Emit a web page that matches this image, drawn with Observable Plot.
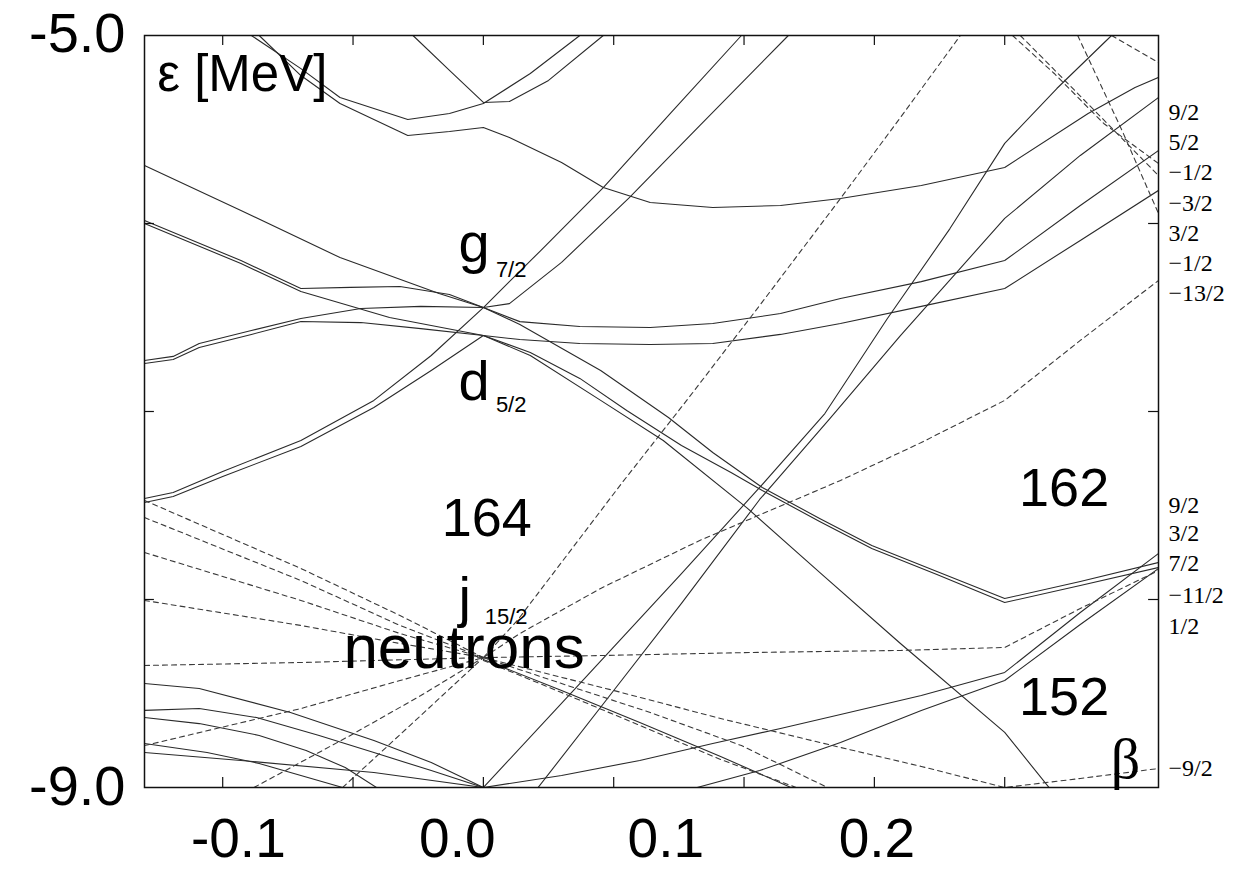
<!DOCTYPE html>
<html><head><meta charset="utf-8">
<script src="https://cdn.jsdelivr.net/npm/d3@7"></script>
<script src="https://cdn.jsdelivr.net/npm/@observablehq/plot@0.6"></script>
<style>html,body{margin:0;padding:0;background:#fff;} #chart{width:1246px;height:870px;overflow:hidden;}</style>
</head><body><div id="chart"></div>
<script>
// ---- axes ----
const xDomain = [-0.13, 0.259];
const yDomain = [-9, -5];
const xMinorTicks = [-0.1, -0.05, 0, 0.05, 0.1, 0.15, 0.2];
const yMinorTicks = [-6, -7, -8];
const xTickLabels = ["-0.1", "0.0", "0.1", "0.2"];
const xTickLabelAt = [-0.094, -0.010, 0.070, 0.151];
const yTickLabels = ["-5.0", "-9.0"];
const yTickValues = [-5, -9];

// ---- levels (beta, energy in MeV), solid = positive parity ----
const upperLines = [
  [[-0.027,-5.0],[-0.013,-5.186],[0,-5.356],[0.01,-5.351],[0.025,-5.239],[0.046,-5.0]],
  [[-0.089,-5.0],[-0.07,-5.176],[-0.055,-5.33],[-0.029,-5.447],[-0.013,-5.415],[0,-5.362],[0.018,-5.202],[0.037,-5.0]],
  [[-0.086,-5.0],[-0.07,-5.213],[-0.055,-5.362],[-0.029,-5.532],[-0.013,-5.511],[0,-5.489],[0.01,-5.543],[0.03,-5.676],[0.046,-5.809],[0.064,-5.888],[0.088,-5.915],[0.114,-5.904],[0.137,-5.867],[0.168,-5.798],[0.2,-5.702],[0.232,-5.415],[0.25,-5.277],[0.259,-5.223]]
];
const g72d52Lines = [
  [[-0.13,-5.691],[-0.093,-5.931],[-0.055,-6.181],[-0.017,-6.372],[0,-6.447],[0.014,-6.537],[0.045,-6.782],[0.071,-7.032],[0.088,-7.218],[0.107,-7.404],[0.129,-7.569],[0.149,-7.713],[0.174,-7.851],[0.2,-7.995],[0.229,-7.904],[0.259,-7.803]],
  [[-0.13,-5.984],[-0.093,-6.197],[-0.07,-6.346],[-0.051,-6.34],[-0.032,-6.335],[-0.013,-6.378],[0,-6.447],[0.014,-6.522],[0.037,-6.548],[0.064,-6.553],[0.088,-6.532],[0.114,-6.479],[0.137,-6.399],[0.168,-6.309],[0.2,-6.197],[0.229,-5.904],[0.259,-5.612]],
  [[-0.13,-6.729],[-0.119,-6.707],[-0.109,-6.638],[-0.089,-6.569],[-0.07,-6.505],[-0.047,-6.452],[-0.024,-6.441],[0,-6.447],[0.01,-6.426],[0.03,-6.207],[0.056,-5.862],[0.083,-5.479],[0.117,-5.0]],
  [[-0.13,-7.463],[-0.119,-7.431],[-0.1,-7.319],[-0.07,-7.154],[-0.042,-6.941],[-0.02,-6.702],[0,-6.447],[0.022,-6.144],[0.046,-5.809],[0.072,-5.41],[0.099,-5.0]],
  [[-0.13,-6.0],[-0.093,-6.213],[-0.07,-6.362],[-0.036,-6.5],[0,-6.596],[0.018,-6.686],[0.037,-6.824],[0.055,-6.995],[0.076,-7.181],[0.095,-7.324],[0.107,-7.42],[0.129,-7.585],[0.149,-7.729],[0.174,-7.867],[0.2,-8.016],[0.229,-7.926],[0.259,-7.83]],
  [[-0.13,-6.745],[-0.119,-6.723],[-0.109,-6.66],[-0.089,-6.59],[-0.07,-6.521],[-0.047,-6.527],[-0.024,-6.559],[0,-6.596],[0.018,-6.702],[0.045,-6.941],[0.069,-7.154],[0.101,-7.511],[0.129,-7.856],[0.16,-8.234],[0.2,-8.707],[0.217,-9.0]],
  [[-0.13,-7.484],[-0.119,-7.452],[-0.1,-7.346],[-0.07,-7.186],[-0.042,-6.979],[-0.02,-6.782],[0,-6.596],[0.014,-6.617],[0.037,-6.638],[0.064,-6.644],[0.088,-6.638],[0.114,-6.59],[0.137,-6.532],[0.168,-6.441],[0.2,-6.346],[0.229,-6.09],[0.259,-5.824]]
];
const lowerLines = [
  [[0,-9.0],[0.037,-8.447],[0.076,-7.862],[0.106,-7.404],[0.131,-7.011],[0.155,-6.505],[0.179,-6.027],[0.2,-5.574],[0.22,-5.282],[0.241,-5.0]],
  [[0.021,-9.0],[0.05,-8.484],[0.076,-8.021],[0.106,-7.468],[0.133,-7.037],[0.16,-6.596],[0.2,-5.973],[0.229,-5.638],[0.259,-5.33]],
  [[0,-9.0],[0.03,-8.936],[0.06,-8.856],[0.088,-8.766],[0.114,-8.686],[0.137,-8.612],[0.168,-8.511],[0.2,-8.388],[0.229,-8.069],[0.259,-7.755]],
  [[0.082,-9.0],[0.106,-8.91],[0.137,-8.761],[0.168,-8.59],[0.2,-8.431],[0.229,-8.133],[0.259,-7.835]],
  [[-0.13,-8.447],[-0.109,-8.473],[-0.074,-8.601],[-0.042,-8.75],[-0.02,-8.867],[0,-9.0]],
  [[-0.13,-8.59],[-0.109,-8.58],[-0.087,-8.628],[-0.063,-8.723],[-0.042,-8.814],[-0.02,-8.91],[0,-9.0]],
  [[-0.13,-8.628],[-0.109,-8.66],[-0.086,-8.723],[-0.068,-8.803],[-0.053,-8.894],[-0.041,-9.0]],
  [[-0.13,-8.766],[-0.106,-8.814],[-0.086,-8.872],[-0.07,-8.936],[-0.054,-9.0]],
  [[-0.13,-8.814],[-0.093,-8.856],[-0.042,-8.92],[0,-9.0]],
  [[0,-8.319],[0.03,-8.484],[0.06,-8.654],[0.091,-8.835],[0.118,-9.0]]
];
// ---- dashed = negative parity (j15/2 and others) ----
const j152Left = [
  [[-0.13,-7.473],[-0.07,-7.835],[-0.032,-8.085],[0,-8.309]],
  [[-0.13,-7.564],[-0.07,-7.899],[-0.032,-8.138],[0,-8.309]],
  [[-0.13,-7.75],[-0.07,-8.005],[-0.032,-8.181],[0,-8.309]],
  [[-0.13,-8.005],[-0.07,-8.138],[-0.032,-8.234],[0,-8.309]],
  [[-0.13,-8.351],[-0.07,-8.335],[0,-8.309]],
  [[-0.13,-8.777],[-0.07,-8.58],[-0.032,-8.431],[0,-8.309]],
  [[-0.088,-9.0],[-0.051,-8.723],[-0.024,-8.511],[0,-8.309]],
  [[-0.054,-9.0],[-0.024,-8.617],[0,-8.309]]
];
const j152Right = [
  [[0,-8.309],[0.013,-8.112],[0.053,-7.383],[0.078,-6.941],[0.106,-6.436],[0.137,-5.867],[0.16,-5.436],[0.183,-5.0]],
  [[0,-8.309],[0.014,-8.181],[0.045,-7.941],[0.083,-7.686],[0.137,-7.367],[0.168,-7.165],[0.2,-6.941],[0.229,-6.622],[0.259,-6.303]],
  [[0,-8.309],[0.045,-8.298],[0.102,-8.282],[0.16,-8.271],[0.2,-8.255],[0.229,-8.048],[0.259,-7.846]],
  [[0,-8.309],[0.05,-8.484],[0.091,-8.633],[0.137,-8.787],[0.168,-8.888],[0.2,-9.0],[0.229,-8.952],[0.259,-8.899]],
  [[0,-8.309],[0.03,-8.447],[0.064,-8.601],[0.099,-8.777],[0.132,-9.0]],
  [[0,-8.324],[0.03,-8.495],[0.06,-8.67],[0.091,-8.851],[0.12,-9.0]]
];
const topRightDashed = [
  [[0.241,-5.0],[0.259,-5.144]],
  [[0.203,-5.0],[0.219,-5.202],[0.238,-5.468],[0.259,-5.681]],
  [[0.206,-5.0],[0.225,-5.266],[0.259,-5.745]],
  [[0.228,-5.0],[0.245,-5.505],[0.259,-5.947]]
];

// ---- labels ----
const rightLabels = ["9/2","5/2","\u22121/2","\u22123/2","3/2","\u22121/2","\u221213/2","9/2","3/2","7/2","\u221211/2","1/2","\u22129/2"];
const rightLabelE = [-5.41,-5.57,-5.73,-5.89,-6.05,-6.21,-6.37,-7.50,-7.65,-7.81,-7.98,-8.14,-8.90];
const shellText = ["164","162","152"];
const shellB = [0.0013, 0.2228, 0.2228];
const shellE = [-7.66, -7.50, -8.617];
const orbitalMain = ["g","d","j"];
const orbitalSub = ["7/2","5/2","15/2"];
const orbitalB = [-0.0095, -0.0095, -0.0095];
const orbitalE = [-6.207, -6.941, -8.09];
const orbitalSubB = [0.0048, 0.0048, 0.0005];
const orbitalSubE = [-6.287, -7.005, -8.128];

const toRows = (group, name) => group.flatMap((pts, i) => pts.map(([b, e]) => ({b, e, id: name + i})));
const solidRows = [...toRows(upperLines, "u"), ...toRows(g72d52Lines, "g"), ...toRows(lowerLines, "l")];
const dashedRows = [...toRows(j152Left, "jl"), ...toRows(j152Right, "jr"), ...toRows(topRightDashed, "t")];

const sans = "Liberation Sans, Arial, Helvetica, sans-serif";
const serif = "Liberation Serif, Times New Roman, serif";

const chart = Plot.plot({
  width: 1246, height: 870,
  marginLeft: 144, marginRight: 88, marginTop: 35, marginBottom: 83,
  x: {domain: xDomain, axis: null},
  y: {domain: yDomain, axis: null},
  style: {background: "#fff", fontFamily: sans, color: "#000"},
  marks: [
    Plot.line(solidRows, {x: "b", y: "e", z: "id", stroke: "#2a2a2a", strokeWidth: 1.1, clip: true}),
    Plot.line(dashedRows, {x: "b", y: "e", z: "id", stroke: "#3a3a3a", strokeWidth: 1.1, strokeDasharray: "5,4", clip: true}),
    Plot.ruleX(xMinorTicks, {y1: -9, y2: -8.947, stroke: "#111", strokeWidth: 1.2}),
    Plot.ruleX(xMinorTicks, {y1: -5, y2: -5.053, stroke: "#111", strokeWidth: 1.2}),
    Plot.ruleY(yMinorTicks, {x1: -0.13, x2: -0.1262, stroke: "#111", strokeWidth: 1.2}),
    Plot.ruleY(yMinorTicks, {x1: 0.259, x2: 0.2552, stroke: "#111", strokeWidth: 1.2}),
    Plot.frame({stroke: "#111", strokeWidth: 1.5}),
    Plot.text(xTickLabels, {x: (d, i) => xTickLabelAt[i], y: -9, text: d => d, dy: 52, fontSize: 55, lineAnchor: "middle", fill: "#000"}),
    Plot.text([yTickLabels[0]], {x: -0.13, y: yTickValues[0], text: d => d, dx: -19, dy: -1, textAnchor: "end", fontSize: 56, lineAnchor: "middle", fill: "#000"}),
    Plot.text([yTickLabels[1]], {x: -0.13, y: yTickValues[1], text: d => d, dx: -19, dy: 0, textAnchor: "end", fontSize: 56, lineAnchor: "middle", fill: "#000"}),
    Plot.text(["\u03b5 [MeV]"], {x: -0.1251, y: -5.293, text: d => d, textAnchor: "start", lineAnchor: "bottom", fontSize: 51, fill: "#000"}),
    Plot.text(["\u03b2"], {x: 0.2407, y: -8.947, text: d => d, textAnchor: "start", lineAnchor: "bottom", fontSize: 58, fontFamily: serif, fill: "#000"}),
    Plot.text(rightLabels, {x: 0.259, y: (d, i) => rightLabelE[i], text: d => d, dx: 10, textAnchor: "start", lineAnchor: "middle", fontSize: 24, fontFamily: serif, fill: "#000"}),
    Plot.text(shellText, {x: (d, i) => shellB[i], y: (d, i) => shellE[i], text: d => d, textAnchor: "middle", lineAnchor: "bottom", fontSize: 54, fill: "#000"}),
    Plot.text(orbitalMain, {x: (d, i) => orbitalB[i], y: (d, i) => orbitalE[i], text: d => d, textAnchor: "start", lineAnchor: "bottom", fontSize: 56, fill: "#000"}),
    Plot.text(orbitalSub, {x: (d, i) => orbitalSubB[i], y: (d, i) => orbitalSubE[i], text: d => d, textAnchor: "start", lineAnchor: "bottom", fontSize: 22, fill: "#000"}),
    Plot.text(["neutrons"], {x: -0.0537, y: -8.362, text: d => d, textAnchor: "start", lineAnchor: "bottom", fontSize: 62, fill: "#000"})
  ]
});
document.getElementById("chart").appendChild(chart);
</script>
</body></html>
